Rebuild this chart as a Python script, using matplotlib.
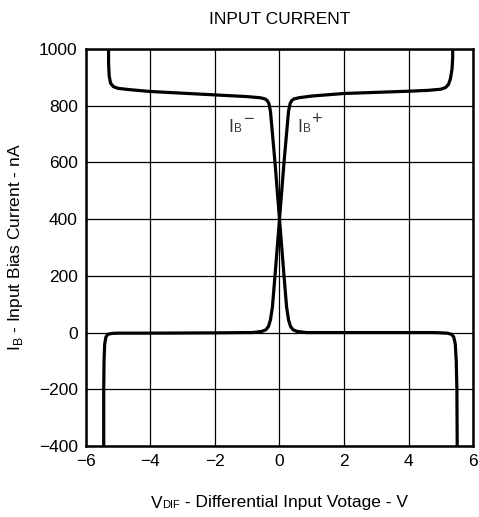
import matplotlib
matplotlib.use("Agg")
import matplotlib.pyplot as plt
from matplotlib.offsetbox import TextArea, HPacker, AnchoredOffsetbox

plt.rcParams['font.family'] = ['Liberation Sans', 'DejaVu Sans']
plt.rcParams['mathtext.fontset'] = 'custom'
plt.rcParams['mathtext.rm'] = 'Liberation Sans'

# IB- curve
ibm_x = [-5.30, -5.30, -5.28, -5.24, -5.15, -5.0, -4.6, -4.0, -3.0, -2.0, -1.0, -0.6,
         -0.45, -0.38, -0.33, -0.28, -0.14, 0.0, 0.14, 0.22, 0.28, 0.34, 0.42, 0.55,
         0.84, 2.0, 3.0, 4.0, 4.8, 5.2, 5.33, 5.40, 5.45, 5.48, 5.50, 5.51]
ibm_y = [1000, 950, 905, 880, 867, 861, 856, 850, 844, 838, 832, 828,
         824, 818, 808, 780, 600, 400, 200, 90, 45, 22, 10, 4,
         0, 0, 0, 0, 0, -2, -6, -15, -40, -100, -200, -400]

# IB+ curve
ibp_x = [-5.45, -5.45, -5.44, -5.42, -5.38, -5.32, -5.2, -5.0, -4.0, -2.0, -1.0, -0.84,
         -0.55, -0.42, -0.34, -0.28, -0.22, -0.14, 0.0, 0.14, 0.28, 0.33, 0.38, 0.45,
         0.6, 1.0, 2.0, 3.0, 4.0, 4.6, 5.0, 5.15, 5.24, 5.30, 5.35, 5.37, 5.37]
ibp_y = [-400, -200, -100, -40, -15, -6, -3, -2, -2, -1, 0, 0,
         4, 10, 22, 45, 90, 200, 400, 600, 780, 808, 818, 824,
         828, 834, 843, 847, 851, 854, 858, 864, 875, 895, 930, 970, 1000]

x_ticks = [-6, -4, -2, 0, 2, 4, 6]
y_ticks = [-400, -200, 0, 200, 400, 600, 800, 1000]

fig = plt.figure(figsize=(4.79, 5.17), dpi=100)
ax = fig.add_axes([0.1795, 0.1373, 0.808, 0.768])

ax.plot(ibm_x, ibm_y, color='black', lw=2.3, solid_joinstyle='round', zorder=3)
ax.plot(ibp_x, ibp_y, color='black', lw=2.3, solid_joinstyle='round', zorder=3)

ax.set_xlim(-6, 6)
ax.set_ylim(-400, 1000)
ax.set_xticks(x_ticks)
ax.set_yticks(y_ticks)
ax.set_xticklabels([f"{v}".replace('-', '\u2212') for v in x_ticks])
ax.set_yticklabels([f"{v}".replace('-', '\u2212') for v in y_ticks])
ax.tick_params(length=0, labelsize=12.5, pad=6)
ax.grid(True, color='black', lw=0.9)
for s in ax.spines.values():
    s.set_linewidth(1.8)

lab_col = '#3a3a3a'


def curve_label(xi, yb, sign, xs, ys):
    ax.text(xi, yb, 'I', fontsize=13, ha='left', va='baseline', color=lab_col)
    ax.text(xi + 0.2, yb, 'B', fontsize=8.5, ha='left', va='baseline', color=lab_col)
    ax.text(xs, ys, sign, fontsize=13, ha='center', va='center', color=lab_col)


curve_label(-1.60, 707, '\u2212', -0.96, 750)
curve_label(0.54, 707, '+', 1.15, 750)

fig.text(0.5 * (0.1795 + 0.9875), 1 - 19 / 517, 'INPUT CURRENT', fontsize=12.5, ha='center', va='center')

xl = HPacker(children=[TextArea('V', textprops=dict(fontsize=12.5)),
                       TextArea('DIF', textprops=dict(fontsize=8)),
                       TextArea(' - Differential Input Votage - V', textprops=dict(fontsize=12.5))],
             align='baseline', pad=0, sep=0)
box = AnchoredOffsetbox(loc='center', child=xl, pad=0, frameon=False,
                        bbox_to_anchor=(0.5 * (0.1795 + 0.9875), 1 - 503 / 517),
                        bbox_transform=fig.transFigure, borderpad=0)
fig.add_artist(box)

fig.text(16 / 479, 0.1373 + 0.768 / 2,
         r'I$_{\mathregular{B}}$ - Input Bias Current - nA', fontsize=12.5, ha='center', va='center', rotation=90)

fig.savefig('out.png', dpi=100)
